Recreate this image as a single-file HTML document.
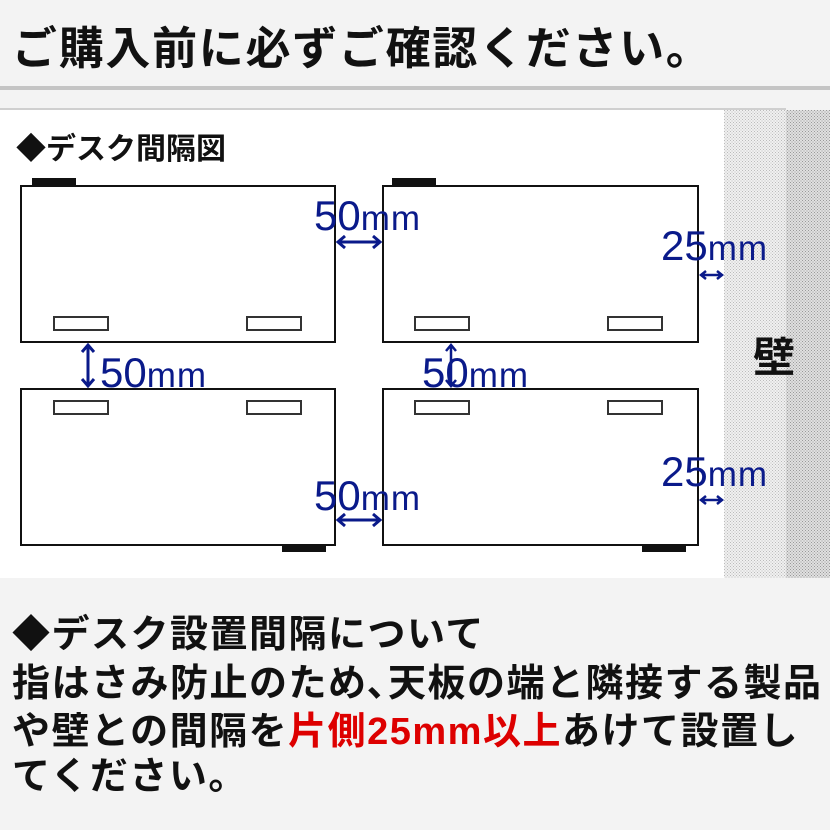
<!DOCTYPE html>
<html><head><meta charset="utf-8"><style>
body{margin:0;width:830px;height:830px;background:#f3f3f3;position:relative;overflow:hidden;font-family:"Liberation Sans","Noto Sans CJK JP",sans-serif;}
.a{position:absolute}
.d{position:absolute;border:2px solid #111;background:#fff;box-sizing:border-box}
.s{position:absolute;border:2px solid #333;width:56px;height:15px;box-sizing:border-box;background:#fff}
.f{position:absolute;background:#111;width:44px;height:8px}
.m{position:absolute;color:#0a1a8a;font-size:42px;white-space:nowrap;line-height:1}
.m span{font-size:35px;letter-spacing:1px}
.t{position:absolute;left:12px;font-size:38px;letter-spacing:1.5px;font-weight:bold;color:#111;white-space:nowrap;line-height:1}
</style></head><body>
<div class="a" style="left:0;top:0;width:830px;height:86px;background:#f3f3f3"></div>
<div class="a" style="left:12px;top:24px;font-size:45px;letter-spacing:1.7px;font-weight:bold;color:#111;white-space:nowrap;line-height:1.1">ご購入前に必ずご確認ください。</div>
<div class="a" style="left:0;top:86px;width:830px;height:4px;background:#c4c4c4"></div>
<div class="a" style="left:0;top:108px;width:786px;height:2px;background:#cfcfcf"></div>
<div class="a" style="left:0;top:110px;width:786px;height:468px;background:#fff"></div>
<svg class="a" style="left:724px;top:110px" width="106" height="468">
<defs><pattern id="p" width="3" height="3" patternUnits="userSpaceOnUse"><rect width="3" height="3" fill="#f0f0f0"/><rect width="1" height="1" fill="#bbb"/><rect x="1.5" y="1.5" width="1" height="1" fill="#bbb"/></pattern>
<pattern id="q" width="3" height="3" patternUnits="userSpaceOnUse"><rect width="3" height="3" fill="#e0e0e0"/><rect width="1" height="1" fill="#999"/><rect x="1.5" y="1.5" width="1" height="1" fill="#999"/></pattern></defs>
<rect width="62" height="468" fill="url(#p)"/><rect x="62" width="44" height="468" fill="url(#q)"/></svg>
<div class="a" style="left:753px;top:324px;font-size:42px;font-weight:bold;color:#111">壁</div>
<div class="a" style="left:16px;top:124px;font-size:30px;font-weight:bold;color:#111;white-space:nowrap">◆デスク間隔図</div>
<div class="f" style="left:32px;top:178px"></div><div class="f" style="left:392px;top:178px"></div>
<div class="f" style="left:282px;top:544px"></div><div class="f" style="left:642px;top:544px"></div>
<div class="d" style="left:20px;top:185px;width:316px;height:158px"></div>
<div class="d" style="left:382px;top:185px;width:317px;height:158px"></div>
<div class="d" style="left:20px;top:388px;width:316px;height:158px"></div>
<div class="d" style="left:382px;top:388px;width:317px;height:158px"></div>
<div class="s" style="left:53px;top:316px"></div><div class="s" style="left:246px;top:316px"></div>
<div class="s" style="left:414px;top:316px"></div><div class="s" style="left:607px;top:316px"></div>
<div class="s" style="left:53px;top:400px"></div><div class="s" style="left:246px;top:400px"></div>
<div class="s" style="left:414px;top:400px"></div><div class="s" style="left:607px;top:400px"></div>
<div class="m" style="left:314px;top:195px">50<span>mm</span></div>
<div class="m" style="left:661px;top:225px">25<span>mm</span></div>
<div class="m" style="left:100px;top:352px">50<span>mm</span></div>
<div class="m" style="left:422px;top:352px">50<span>mm</span></div>
<div class="m" style="left:314px;top:475px">50<span>mm</span></div>
<div class="m" style="left:661px;top:451px">25<span>mm</span></div>
<svg class="a" style="left:0;top:0" width="830" height="830" fill="none" stroke="#0a1a8a" stroke-width="3">
<path d="M338 242H380M345 236L338 242L345 248M373 236L380 242L373 248"/>
<path d="M338 520H380M345 514L338 520L345 526M373 514L380 520L373 526"/>
<path d="M701 275H722M706 271L701 275L706 279M717 271L722 275L717 279" stroke-width="2.5"/>
<path d="M701 500H722M706 496L701 500L706 504M717 496L722 500L717 504" stroke-width="2.5"/>
<path d="M88 345V386M82 352L88 345L94 352M82 379L88 386L94 379"/>
<path d="M451 345V386M446 351L451 345L456 351M446 380L451 386L456 380" stroke-width="2.5"/>
</svg>
<div class="t" style="top:616px">◆デスク設置間隔について</div>
<div class="t" style="top:665px">指はさみ防止のため､天板の端と隣接する製品</div>
<div class="t" style="top:713px">や壁との間隔を<span style="color:#d00">片側25mm以上</span>あけて設置し</div>
<div class="t" style="top:758px">てください。</div>
</body></html>
